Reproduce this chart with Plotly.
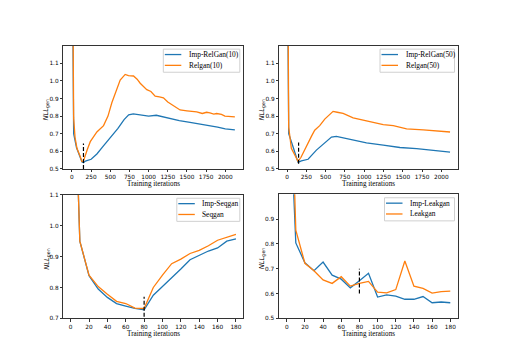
import plotly.graph_objects as go

# ---- data ----
# top-left: RelGAN(10)
tl_imp_x = [0, 22, 60, 100, 130, 150, 175, 250, 325, 400, 500, 600, 680, 740, 800, 900, 1000,
            1100, 1200, 1300, 1400, 1540, 1650, 1800, 1900, 2000, 2125]
tl_imp_y = [2.0, 0.70, 0.62, 0.575, 0.54, 0.535, 0.545, 0.555, 0.585, 0.625, 0.675, 0.73, 0.78,
            0.807, 0.813, 0.805, 0.80, 0.805, 0.795, 0.783, 0.775, 0.765, 0.758, 0.745, 0.738,
            0.728, 0.722]
tl_rel_x = [0, 22, 40, 65, 100, 130, 150, 174, 200, 239, 280, 325, 412, 470, 520, 586, 629, 694,
            737, 803, 850, 890, 976, 1030, 1085, 1140, 1193, 1250, 1300, 1323, 1370, 1410, 1500,
            1627, 1700, 1757, 1800, 1850, 1887, 1950, 1995, 2060, 2125]
tl_rel_y = [2.3, 0.79, 0.68, 0.617, 0.58, 0.543, 0.545, 0.58, 0.61, 0.655, 0.685, 0.71, 0.746,
            0.80, 0.876, 0.95, 1.005, 1.037, 1.03, 1.028, 1.01, 0.987, 0.95, 0.94, 0.913, 0.91,
            0.904, 0.88, 0.865, 0.863, 0.845, 0.835, 0.83, 0.824, 0.815, 0.822, 0.818, 0.812,
            0.815, 0.81, 0.80, 0.797, 0.796]

# top-right: RelGAN(50)
tr_imp_x = [0, 22, 78, 143, 186, 273, 381, 511, 576, 640, 770, 900, 1030, 1247, 1463, 1680,
            1896, 2113]
tr_imp_y = [2.0, 0.70, 0.626, 0.537, 0.546, 0.555, 0.607, 0.654, 0.681, 0.685, 0.672, 0.657,
            0.648, 0.635, 0.622, 0.615, 0.604, 0.596]
tr_rel_x = [0, 22, 56, 100, 143, 180, 208, 240, 273, 316, 359, 424, 489, 554, 597, 650, 727,
            857, 1030, 1247, 1377, 1550, 1766, 1983, 2113]
tr_rel_y = [2.5, 0.737, 0.617, 0.575, 0.543, 0.565, 0.59, 0.62, 0.654, 0.685, 0.72, 0.746,
            0.783, 0.81, 0.827, 0.822, 0.815, 0.79, 0.774, 0.752, 0.746, 0.728, 0.722, 0.715,
            0.71]

# bottom: every 10 iterations
iters = [0, 10, 20, 30, 40, 50, 60, 70, 80, 90, 100, 110, 120, 130, 140, 150, 160, 170, 180]
seq_imp = [1.9, 0.95, 0.838, 0.795, 0.768, 0.748, 0.74, 0.732, 0.728, 0.775, 0.803, 0.83, 0.86,
           0.89, 0.905, 0.918, 0.928, 0.95, 0.957]
seq_std = [1.9, 0.95, 0.84, 0.803, 0.778, 0.755, 0.748, 0.733, 0.732, 0.80, 0.84, 0.877, 0.892,
           0.91, 0.92, 0.935, 0.953, 0.962, 0.972]
leak_imp = [1.66, 0.804, 0.724, 0.692, 0.727, 0.674, 0.658, 0.623, 0.652, 0.682, 0.586, 0.595,
            0.59, 0.577, 0.577, 0.588, 0.563, 0.566, 0.563]
leak_std = [2.06, 0.856, 0.722, 0.692, 0.655, 0.641, 0.668, 0.63, 0.641, 0.649, 0.606, 0.603,
            0.616, 0.731, 0.63, 0.621, 0.602, 0.608, 0.61]

# dashed markers: (x, y_low, y_high)
marks = [(150, 0.5, 0.645), (150, 0.53, 0.65), (80, 0.705, 0.77), (80, 0.6, 0.7)]

BLUE = "#1f77b4"
ORANGE = "#ff7f0e"
SERIF = "Liberation Serif"
SANS = "DejaVu Sans"

# page body adds an 8px margin, so the figure is drawn 8px smaller and shifted
OFF = 8
W, H = 510 - OFF, 360 - OFF


def px(x):
    return (x - OFF) / W


def py(y):
    return 1 - (y - OFF) / H


# subplot frames in reference pixels: (left, right, top, bottom)
frames = [(63.3, 243.3, 43.3, 168.7), (279.3, 458, 43.3, 168.7),
          (63.3, 243.3, 195, 320.7), (279, 458, 194.5, 320.7)]
xranges = [[-113, 2235], [-100, 2216], [-8, 188], [-8.5, 188.5]]
yranges = [[0.5, 1.2], [0.5, 1.2], [0.7, 1.1], [0.5, 1.0]]
yticks = [[0.5, 0.6, 0.7, 0.8, 0.9, 1.0, 1.1], [0.5, 0.6, 0.7, 0.8, 0.9, 1.0, 1.1],
          [0.7, 0.8, 0.9, 1.0, 1.1], [0.5, 0.6, 0.7, 0.8, 0.9]]
xticks_top = [0, 250, 500, 750, 1000, 1250, 1500, 1750, 2000]
xticks_bot = [0, 20, 40, 60, 80, 100, 120, 140, 160, 180]
legend_w = [76.5, 74.5, 63, 70]

series = [
    [(tl_imp_x, tl_imp_y, "Imp-RelGan(10)", BLUE), (tl_rel_x, tl_rel_y, "Relgan(10)", ORANGE)],
    [(tr_imp_x, tr_imp_y, "Imp-RelGan(50)", BLUE), (tr_rel_x, tr_rel_y, "Relgan(50)", ORANGE)],
    [(iters, seq_imp, "Imp-Seqgan", BLUE), (iters, seq_std, "Seqgan", ORANGE)],
    [(iters, leak_imp, "Imp-Leakgan", BLUE), (iters, leak_std, "Leakgan", ORANGE)],
]

fig = go.Figure()
layout = dict(
    width=W, height=H,
    margin=dict(l=0, r=0, t=0, b=0),
    paper_bgcolor="white", plot_bgcolor="white",
    font=dict(family=SERIF, size=7, color="black"),
    showlegend=False,
    annotations=[], shapes=[],
)

for i in range(4):
    n = "" if i == 0 else str(i + 1)
    left, right, top, bottom = frames[i]
    for xs, ys, name, col in series[i]:
        fig.add_trace(go.Scatter(
            x=xs, y=ys, mode="lines", name=name,
            line=dict(color=col, width=1.3),
            xaxis="x" + n, yaxis="y" + n,
        ))
    mx, ylo, yhi = marks[i]
    fig.add_trace(go.Scatter(
        x=[mx, mx], y=[ylo, yhi], mode="lines",
        line=dict(color="black", width=1.2, dash="4px,2px"),
        xaxis="x" + n, yaxis="y" + n,
    ))
    axis_common = dict(
        showline=True, linecolor="#333", linewidth=1, mirror=True,
        ticks="outside", ticklen=2.5, tickcolor="#333", showgrid=False, zeroline=False,
        tickfont=dict(family=SANS, size=5.8),
    )
    layout["xaxis" + n] = dict(
        axis_common, domain=[px(left), px(right)], range=xranges[i],
        anchor="y" + n, tickvals=xticks_top if i < 2 else xticks_bot,
    )
    layout["yaxis" + n] = dict(
        axis_common, domain=[py(bottom), py(top)], range=yranges[i],
        anchor="x" + n, tickvals=yticks[i], tickformat=".1f",
    )
    # axis titles
    layout["annotations"].append(dict(
        text="Training iterations", xref="paper", yref="paper",
        x=px((left + right) / 2), y=py(bottom + 15.5),
        xanchor="center", yanchor="middle", showarrow=False,
        font=dict(family=SERIF, size=7.2),
    ))
    layout["annotations"].append(dict(
        text="<i>NLL</i><sub>gen</sub>", xref="paper", yref="paper",
        x=px(left - 17), y=py((top + bottom) / 2 + 2), textangle=-90,
        xanchor="center", yanchor="middle", showarrow=False,
        font=dict(family=SANS, size=6.8),
    ))
    # legend box, matplotlib style
    bx1 = right - 3.5
    bx0 = bx1 - legend_w[i]
    by0 = top + 3.5
    by1 = by0 + 23.5
    layout["shapes"].append(dict(
        type="rect", xref="paper", yref="paper",
        x0=px(bx0), x1=px(bx1), y0=py(by0), y1=py(by1),
        line=dict(color="#d0d0d0", width=1), fillcolor="rgba(255,255,255,0.8)",
    ))
    for k, (_, _, name, col) in enumerate(series[i]):
        ry = by0 + 5.5 + k * 11
        layout["shapes"].append(dict(
            type="line", xref="paper", yref="paper",
            x0=px(bx0 + 1.5), x1=px(bx0 + 18), y0=py(ry), y1=py(ry),
            line=dict(color=col, width=1.3),
        ))
        layout["annotations"].append(dict(
            text=name, xref="paper", yref="paper",
            x=px(bx0 + 23.5), y=py(ry), xanchor="left", yanchor="middle",
            showarrow=False, font=dict(family=SERIF, size=7.4),
        ))

fig.update_layout(**layout)
fig.write_html("out.html")
